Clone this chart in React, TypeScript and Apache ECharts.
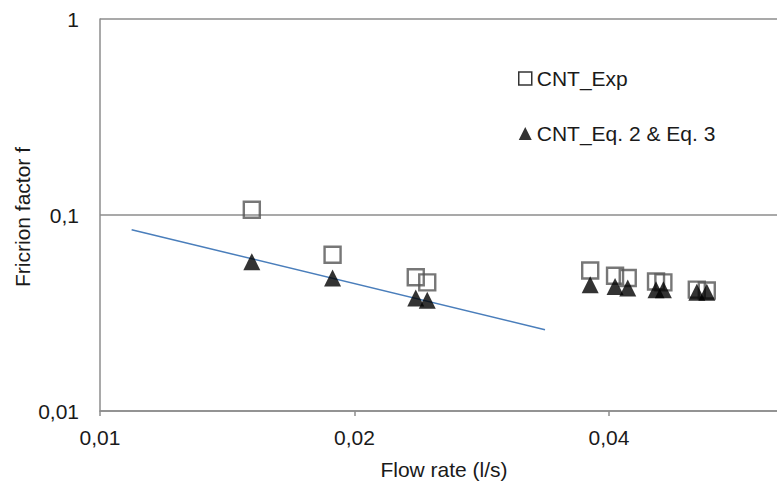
import React, { useEffect, useRef } from 'react';
import * as echarts from 'echarts';

const xTickValues = [0.01, 0.02, 0.04];
const flowRate = [0.01512, 0.01884, 0.02363, 0.02438, 0.038, 0.04066, 0.04209, 0.04546, 0.04638, 0.0508, 0.0522];
const expFriction = [0.1064, 0.0627, 0.0481, 0.0453, 0.0521, 0.049, 0.0477, 0.0458, 0.0453, 0.0416, 0.0412];
const eqFriction = [0.0578, 0.0477, 0.0377, 0.0367, 0.0441, 0.0432, 0.0424, 0.0416, 0.0416, 0.0403, 0.0403];
const trendX = [0.0109, 0.0336];
const trendY = [0.0841, 0.026];
const seriesNames = ['CNT_Exp', 'CNT_Eq. 2 & Eq. 3'];
const xTitle = 'Flow rate (l/s)';
const yTitle = 'Fricrion factor f';

const FONT = '"Liberation Sans", Arial, sans-serif';
const TEXT = '#1a1a1a';
const AXIS = '#8c8c8c';
const FS = 21;

const fmt = (v: number) => String(Number(Number(v).toPrecision(6))).replace('.', ',');

export default function App() {
  const ref = useRef<HTMLDivElement>(null);
  useEffect(() => {
    if (!ref.current) return;
    const chart = echarts.init(ref.current, null, { renderer: 'svg' });
    chart.setOption({
      animation: false,
      backgroundColor: '#fff',
      grid: { left: 100, right: 0, top: 19, bottom: 70 },
      xAxis: {
        type: 'log',
        logBase: 2,
        min: 0.01,
        max: 0.0632,
        axisLine: { show: true, lineStyle: { color: AXIS, width: 1.5 } },
        axisTick: { show: true, length: 5, customValues: xTickValues, lineStyle: { color: AXIS, width: 1.5 } },
        axisLabel: { customValues: xTickValues, formatter: fmt, margin: 16, fontSize: FS, color: TEXT, fontFamily: FONT },
        splitLine: { show: false },
        minorTick: { show: false },
      },
      yAxis: {
        type: 'log',
        logBase: 10,
        min: 0.01,
        max: 1,
        axisLine: { show: true, lineStyle: { color: AXIS, width: 1.5 } },
        axisTick: { show: false },
        axisLabel: { formatter: fmt, margin: 21, fontSize: FS, color: TEXT, fontFamily: FONT },
        splitLine: { show: true, lineStyle: { color: AXIS, width: 1.5 } },
      },
      legend: {
        orient: 'vertical',
        left: 513,
        top: 62,
        itemWidth: 13,
        itemHeight: 13,
        itemGap: 32,
        data: [
          { name: seriesNames[0], icon: 'rect', itemStyle: { color: '#fff', borderColor: '#000', borderWidth: 1.5 } },
          { name: seriesNames[1], icon: 'triangle', itemStyle: { color: '#000', borderWidth: 0 } },
        ],
        textStyle: { fontSize: FS, color: TEXT, fontFamily: FONT, lineHeight: 23 },
      },
      graphic: [
        {
          type: 'text',
          x: 444,
          y: 469,
          style: { text: xTitle, textAlign: 'center', textVerticalAlign: 'middle', fontSize: FS, fill: TEXT, fontFamily: FONT },
        },
        {
          type: 'text',
          x: 22,
          y: 217,
          rotation: Math.PI / 2,
          style: { text: yTitle, textAlign: 'center', textVerticalAlign: 'middle', fontSize: FS, fill: TEXT, fontFamily: FONT },
        },
      ],
      series: [
        {
          type: 'line',
          data: trendX.map((x, i) => [x, trendY[i]]),
          symbol: 'none',
          lineStyle: { color: '#4a7ebb', width: 1.5 },
          silent: true,
          z: 1,
        },
        {
          name: seriesNames[0],
          type: 'scatter',
          symbol: 'rect',
          symbolSize: 16,
          data: flowRate.map((x, i) => [x, expFriction[i]]),
          itemStyle: { color: 'rgba(0,0,0,0)', borderColor: '#555', borderWidth: 2.4 },
          z: 2,
        },
        {
          name: seriesNames[1],
          type: 'scatter',
          symbol: 'triangle',
          symbolSize: 17,
          data: flowRate.map((x, i) => [x, eqFriction[i]]),
          itemStyle: { color: '#000' },
          z: 3,
        },
      ],
    });
    return () => chart.dispose();
  }, []);
  return (
    <div style={{ position: 'fixed', left: 0, top: 0, width: 777, height: 481, background: '#fff' }}>
      <div ref={ref} style={{ width: 777, height: 481 }} />
    </div>
  );
}
